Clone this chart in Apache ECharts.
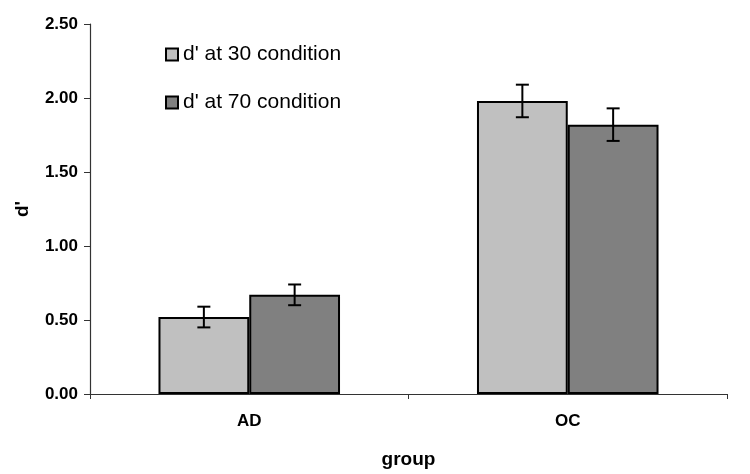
<!DOCTYPE html>
<html>
<head>
<meta charset="utf-8">
<script src="https://cdn.jsdelivr.net/npm/echarts@6/dist/echarts.min.js"></script>
<style>html,body{margin:0;padding:0;background:#fff}#c{width:750px;height:474px}</style>
</head>
<body>
<div id="c"></div>
<script>
var categories = ['AD', 'OC'];
var seriesNames = ["d' at 30 condition", "d' at 70 condition"];
var d30 = [0.52, 1.98];
var d70 = [0.67, 1.82];
var err30 = [0.07, 0.11];
var err70 = [0.07, 0.11];
var yTicks = [0, 0.5, 1, 1.5, 2, 2.5];

var BAR_FRAC = 0.285;
function errSeries(vals, errs, sign) {
  return {
    type: 'custom',
    z: 10,
    silent: true,
    data: vals.map(function (v, i) { return [i, v - errs[i], v + errs[i]]; }),
    renderItem: function (params, api) {
      var band = api.size([1, 0])[0];
      var off = sign * band * BAR_FRAC / 2;
      var lo = api.coord([api.value(0), api.value(1)]);
      var hi = api.coord([api.value(0), api.value(2)]);
      var x = lo[0] + off;
      var cap = 6.5;
      var st = { stroke: '#000', lineWidth: 2 };
      return {
        type: 'group',
        children: [
          { type: 'line', shape: { x1: x, y1: lo[1], x2: x, y2: hi[1] }, style: st },
          { type: 'line', shape: { x1: x - cap, y1: lo[1], x2: x + cap, y2: lo[1] }, style: st },
          { type: 'line', shape: { x1: x - cap, y1: hi[1], x2: x + cap, y2: hi[1] }, style: st }
        ]
      };
    }
  };
}

var chart = echarts.init(document.getElementById('c'));
chart.setOption({
  animation: false,
  textStyle: { fontFamily: 'Liberation Sans, Arial, sans-serif' },
  grid: { left: 90, right: 23, top: 24, bottom: 80, outerBoundsMode: 'none', containLabel: false },
  legend: {
    orient: 'vertical',
    left: 160,
    top: 38,
    itemWidth: 12,
    itemHeight: 12,
    itemGap: 25,
    icon: 'rect',
    textStyle: { fontSize: 21, color: '#000', fontFamily: 'Liberation Sans, Arial, sans-serif', lineHeight: 23 },
    data: seriesNames
  },
  xAxis: {
    type: 'category',
    data: categories,
    name: 'group',
    nameLocation: 'middle',
    nameGap: 56,
    nameTextStyle: { fontSize: 19, fontWeight: 'bold', color: '#000' },
    axisLine: { lineStyle: { color: '#333', width: 1.2 } },
    axisTick: { show: true, alignWithLabel: false, length: 5, lineStyle: { color: '#333' } },
    axisLabel: { fontSize: 17, fontWeight: 'bold', color: '#000', margin: 19 },
    splitLine: { show: false }
  },
  yAxis: {
    type: 'value',
    min: 0,
    max: 2.5,
    interval: 0.5,
    name: "d'",
    nameLocation: 'middle',
    nameGap: 58,
    nameRotate: 90,
    nameTextStyle: { fontSize: 19, fontWeight: 'bold', color: '#000' },
    axisLine: { show: true, lineStyle: { color: '#333', width: 1.2 } },
    axisTick: { show: true, length: 6, lineStyle: { color: '#333' } },
    axisLabel: {
      fontSize: 17, fontWeight: 'bold', color: '#000', margin: 12,
      formatter: function (v) { return v.toFixed(2); }
    },
    splitLine: { show: false }
  },
  series: [
    {
      name: seriesNames[0], type: 'bar', data: d30, barWidth: (BAR_FRAC * 100) + '%', barGap: '0%',
      itemStyle: { color: '#c0c0c0', borderColor: '#000', borderWidth: 2 }
    },
    {
      name: seriesNames[1], type: 'bar', data: d70, barWidth: (BAR_FRAC * 100) + '%', barGap: '0%',
      itemStyle: { color: '#808080', borderColor: '#000', borderWidth: 2 }
    },
    errSeries(d30, err30, -1),
    errSeries(d70, err70, 1)
  ]
});
</script>
</body>
</html>
